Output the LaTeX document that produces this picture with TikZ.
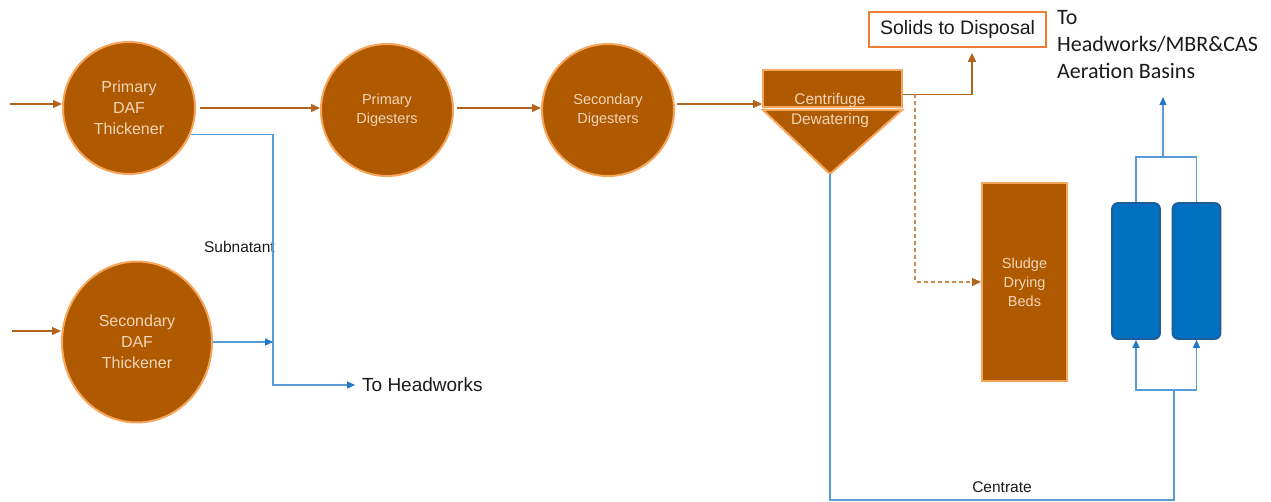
\documentclass[tikz,border=0pt]{standalone}
\usepackage{fontspec}
\setmainfont{Liberation Sans}
\newfontfamily\calibri{Carlito}
\usepackage{xcolor}
\usepackage{tikz}
\usetikzlibrary{positioning,arrows.meta,calc,shapes.geometric}
\definecolor{sludge}{HTML}{AF5900}
\definecolor{rim}{HTML}{F8A65C}
\definecolor{label}{HTML}{F3D6B8}
\definecolor{pipe}{HTML}{B2641F}
\definecolor{pipeLt}{HTML}{C98A4E}
\definecolor{flow}{HTML}{5B9BD5}
\definecolor{flowDk}{HTML}{1F77C9}
\definecolor{reactor}{HTML}{0070C0}
\definecolor{reactorDk}{HTML}{1D5C99}
\definecolor{disposal}{HTML}{EE7D36}
\definecolor{ink}{HTML}{1A1A1A}

\begin{document}
\begin{tikzpicture}[x=1pt,y=-1pt,
    unit/.style={circle, draw=rim, line width=2pt, fill=sludge, text=label,
                 align=center, inner sep=0pt, minimum size=132pt},
    tank/.style={rectangle, draw=rim, line width=2pt, fill=sludge, text=label,
                 align=center, inner sep=0pt},
    column/.style={rectangle, rounded corners=6pt, draw=reactorDk, line width=1.8pt,
                   fill=reactor, minimum width=48pt, minimum height=136pt},
    sludgeline/.style={draw=pipe, line width=1.4pt, -{Triangle[length=9pt,width=8pt]}},
    drainline/.style={draw=pipeLt, line width=1.4pt, dash pattern=on 4pt off 3pt,
                      -{Triangle[length=9pt,width=8pt,color=pipe]}},
    waterline/.style={draw=flow, line width=1.3pt},
    waterarrow/.style={waterline, -{Triangle[length=8pt,width=7pt,color=flowDk]}},
    note/.style={text=ink, inner sep=0pt}]
  \useasboundingbox (0,0) rectangle (1271,502);

  % thickening and digestion
  \node[unit, font=\fontsize{16}{21}\selectfont] (pdaf) at (129,108) {Primary\\DAF\\Thickener};
  \node[unit, ellipse, minimum width=150pt, minimum height=161pt,
        font=\fontsize{16}{21}\selectfont] (sdaf) at (137,342) {Secondary\\DAF\\Thickener};
  \node[unit, font=\fontsize{14.5}{19}\selectfont] (pdig) at (387,110) {Primary\\Digesters};
  \node[unit, font=\fontsize{14.5}{19}\selectfont] (sdig) at (608,110) {Secondary\\Digesters};

  % dewatering
  \draw[draw=rim, line width=2pt, fill=sludge]
    (763,110) -- (902,110) -- (830,174) coordinate (cfApex) -- cycle;
  \node[tank, minimum width=139pt, minimum height=37pt] (cfTop) at (832.5,88.5) {};
  \node[text=label, align=center, font=\fontsize{15.4}{20}\selectfont] (cfText) at (830,111)
    {Centrifuge\\Dewatering};
  \node[draw=disposal, line width=1.8pt, fill=white, minimum width=177pt, minimum height=35pt,
        inner sep=0pt, text=ink, font=\fontsize{19.5}{24}\selectfont] (solids) at (957.5,29.5)
    {Solids to Disposal};
  \node[tank, minimum width=85pt, minimum height=198pt, font=\fontsize{14.5}{19}\selectfont]
    (beds) at (1024.5,282) {Sludge\\Drying\\Beds};

  % treatment trains
  \node[column] (colA) at (1136,271) {};
  \node[column] (colB) at (1196.5,271) {};

  % labels
  \node[note, anchor=north west, align=left, font=\calibri\fontsize{22}{27}\selectfont]
    (aeration) at (1057,10) {To\\Headworks/MBR\&CAS\\Aeration Basins};
  \node[note, anchor=west, font=\fontsize{19}{23}\selectfont] (toHW) at (362,385) {To Headworks};
  \node[note, anchor=east, font=\fontsize{15.5}{19}\selectfont] (subnatant) at (275,247) {Subnatant};
  \node[note, font=\fontsize{15.5}{19}\selectfont] (centrate) at (1002,487) {Centrate};

  \coordinate (feed1) at (10,104);
  \coordinate (feed2) at (12,331);
  \coordinate (bus) at (273,135);
  \coordinate (tap) at (915,94.5);
  \coordinate (cenBot) at (1174,500);
  \coordinate (split) at (1174,390);
  \coordinate (merge) at (1163,157);
  \coordinate (aerOut) at (1163,97);

  % sludge flow
  \draw[sludgeline] (feed1) -- (feed1 -| pdaf.west);
  \draw[sludgeline] (feed2) -- (feed2 -| sdaf.west);
  \draw[sludgeline] ($(pdaf.east)+(4,0)$) -- (pdaf.east -| pdig.west);
  \draw[sludgeline] ($(pdig.east)+(3,-2)$) -- ($(sdig.west)+(0,-2)$);
  \draw[sludgeline] ($(sdig.east)+(2,-6)$) -- ($(cfTop.west)+(0,15.5)$);
  \draw[sludgeline, shorten >=5pt] ($(cfTop.east)+(0,6)$) -| ($(solids.south)+(14.5,0)$);
  \draw[drainline] (tap) |- (beds.west);

  % liquid side streams
  \draw[waterarrow, shorten >=7pt] (pdaf.-23) -| (bus |- toHW.west) -- (toHW.west);
  \draw[waterarrow] (sdaf.east) -- (sdaf.east -| bus);
  \draw[waterline] (cfApex) |- (cenBot) -- (split);
  \draw[waterarrow] (split) -| (colA.south);
  \draw[waterarrow] (split) -| (colB.south);
  \draw[waterline] (colA.north) |- (merge) -| (colB.north);
  \draw[waterarrow] (merge) -- (aerOut);
\end{tikzpicture}
\end{document}
